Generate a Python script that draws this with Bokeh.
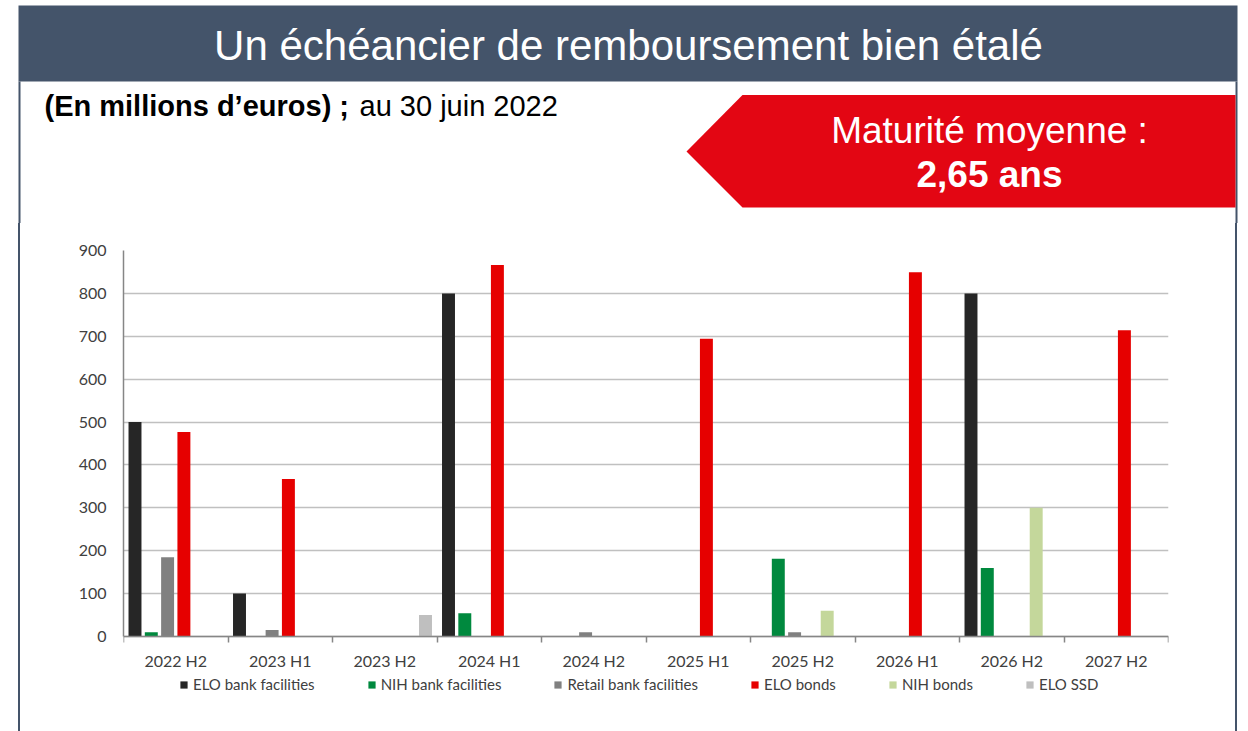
from bokeh.plotting import figure
from bokeh.models import (ColumnDataSource, Range1d, FixedTicker, Legend, LegendItem, Plot)
from bokeh.transform import dodge
from bokeh.layouts import column
from bokeh.core.properties import value
from bokeh.embed import file_html
from bokeh.resources import INLINE

# ---------------- data ----------------
categories = ["2022 H2", "2023 H1", "2023 H2", "2024 H1", "2024 H2",
              "2025 H1", "2025 H2", "2026 H1", "2026 H2", "2027 H2"]
elo_bank_facilities = [500, 100, 0, 800, 0, 0, 0, 0, 800, 0]
nih_bank_facilities = [10, 0, 0, 54, 0, 0, 181, 0, 160, 0]
retail_bank_facilities = [185, 15, 0, 0, 10, 0, 10, 0, 0, 0]
elo_bonds = [477, 367, 0, 866, 0, 694, 0, 849, 0, 714]
nih_bonds = [0, 0, 0, 0, 0, 0, 60, 0, 300, 0]
elo_ssd = [0, 0, 50, 0, 0, 0, 0, 0, 0, 0]

series_names = ["ELO bank facilities", "NIH bank facilities", "Retail bank facilities",
                "ELO bonds", "NIH bonds", "ELO SSD"]
series_keys = ["elo_bank", "nih_bank", "retail_bank", "elo_bonds", "nih_bonds", "elo_ssd"]
series_colors = ["#262626", "#00893E", "#808080", "#E60000", "#C4D79B", "#BFBFBF"]
y_ticks = [0, 100, 200, 300, 400, 500, 600, 700, 800, 900]
y_max = 900

title_text = "Un échéancier de remboursement bien étalé"
subtitle_bold = "(En millions d’euros) ;"
subtitle_regular = "au 30 juin 2022"
badge_line1 = "Maturité moyenne :"
badge_line2 = "2,65 ans"

NAVY = "#44546A"
RED = "#E30613"
TXT = "#404040"
AXIS = "#868686"
GRID = "#C0C0C0"

PAGE_W, PAGE_H = 1248, 731
HEAD_H = 223
BODY_H = PAGE_H - HEAD_H

HAS_FRAME_ALIGN = "frame_align" in Plot.properties()


def no_align(fig):
    if HAS_FRAME_ALIGN:
        fig.frame_align = False


# ---------------- header ----------------
head = figure(width=PAGE_W, height=HEAD_H, x_range=Range1d(0, PAGE_W), y_range=Range1d(HEAD_H, 0),
              x_axis_location=None, y_axis_location=None, toolbar_location=None,
              output_backend="svg", min_border=0, outline_line_color=None,
              background_fill_color="white", border_fill_color="white")
head.grid.visible = False
no_align(head)
head.quad(left=[18], right=[1237], top=[5], bottom=[81], color=NAVY, line_color=None)
head.quad(left=[18, 1235], right=[20, 1237], top=[81, 81], bottom=[HEAD_H, HEAD_H],
          color=NAVY, line_color=None)
head.patch(x=[686, 742, 1235, 1235, 742], y=[151, 94.5, 94.5, 207, 207],
           color=RED, line_color=None)
head.text(x=[628], y=[45], text=[title_text], text_font=value("Liberation Sans"),
          text_font_size="42px", text_color="white", text_align="center",
          text_baseline="alphabetic")
head.text(x=[44], y=[105], text=[subtitle_bold], text_font=value("Liberation Sans"),
          text_font_size="29px", text_font_style="bold", text_color="black",
          text_align="left", text_baseline="alphabetic")
head.text(x=[359], y=[105], text=[subtitle_regular], text_font=value("Liberation Sans"),
          text_font_size="29px", text_color="black",
          text_align="left", text_baseline="alphabetic")
head.text(x=[989], y=[130], text=[badge_line1], text_font=value("Liberation Sans"),
          text_font_size="37px", text_color="white", text_align="center",
          text_baseline="alphabetic")
head.text(x=[989], y=[174], text=[badge_line2], text_font=value("Liberation Sans"),
          text_font_size="37px", text_font_style="bold", text_color="white",
          text_align="center", text_baseline="alphabetic")

# ---------------- chart ----------------
n = len(categories)
centers = [i + 0.5 for i in range(n)]
edges = list(range(n + 1))

source = ColumnDataSource(data=dict(
    cat=categories,
    pos=centers,
    elo_bank=elo_bank_facilities,
    nih_bank=nih_bank_facilities,
    retail_bank=retail_bank_facilities,
    elo_bonds=elo_bonds,
    nih_bonds=nih_bonds,
    elo_ssd=elo_ssd,
))

side_lines = ("linear-gradient(to right, transparent 18px, #44546A 18px, #44546A 20px, "
              "transparent 20px, transparent 1235px, #44546A 1235px, #44546A 1237px, "
              "transparent 1237px)")

# frame: top at 27px, value 0 at 413px, frame bottom at BODY_H - 38 (room for legend)
TOP_PX, ZERO_PX, BOTTOM_BORDER = 27, 413, 38
frame_h = BODY_H - BOTTOM_BORDER - TOP_PX
px_per_unit = (ZERO_PX - TOP_PX) / y_max
y_min = y_max - frame_h / px_per_unit

p = figure(width=PAGE_W, height=BODY_H, x_range=Range1d(0, n),
           y_range=Range1d(y_min, y_max), toolbar_location=None,
           output_backend="svg", min_border_left=123, min_border_right=80,
           min_border_top=TOP_PX, min_border_bottom=BOTTOM_BORDER, outline_line_color=None,
           background_fill_color="white", border_fill_color="white",
           border_fill_alpha=0.0, styles={"background": side_lines})
no_align(p)
p.xgrid.visible = False
p.ygrid.grid_line_color = GRID
p.ygrid.grid_line_width = 1.5
p.ygrid.ticker = FixedTicker(ticks=y_ticks)

yax = p.yaxis[0]
yax.ticker = FixedTicker(ticks=y_ticks)
yax.bounds = (0, y_max)
yax.axis_line_color = AXIS
yax.axis_line_width = 1.5
yax.major_tick_line_color = None
yax.minor_tick_line_color = None
yax.major_tick_out = 0
yax.major_label_standoff = 17
yax.major_label_text_font = "Lato"
yax.major_label_text_font_size = "16px"
yax.major_label_text_color = TXT

xax = p.xaxis[0]
xax.fixed_location = 0
xax.ticker = FixedTicker(ticks=centers, minor_ticks=edges)
xax.major_label_overrides = {c: lab for c, lab in zip(centers, categories)}
xax.axis_line_color = AXIS
xax.axis_line_width = 1.5
xax.major_tick_line_color = None
xax.major_tick_out = 0
xax.major_tick_in = 0
xax.minor_tick_line_color = AXIS
xax.minor_tick_line_width = 1.5
xax.minor_tick_out = 6
xax.minor_tick_in = 0
xax.major_label_standoff = 8
xax.major_label_text_font = "Lato"
xax.major_label_text_font_size = "16px"
xax.major_label_text_color = TXT

step = 0.156
bar_w = 0.124
items = []
for i, (key, name, col) in enumerate(zip(series_keys, series_names, series_colors)):
    off = (i - 2.5) * step
    r = p.vbar(x=dodge("pos", off), top=key, width=bar_w, bottom=0,
               source=source, fill_color=col, line_color=None)
    items.append(LegendItem(label=name, renderers=[r]))

legend = Legend(items=items, orientation="horizontal", location=(56, 0),
                glyph_width=9, glyph_height=9, label_standoff=5, spacing=52,
                padding=0, margin=0, label_height=12,
                border_line_color=None, background_fill_alpha=0,
                label_text_font="Lato", label_text_font_size="15px",
                label_text_color=TXT)
p.add_layout(legend)

layout = column(head, p, spacing=0)
open("out.html", "w").write(file_html(layout, INLINE))
